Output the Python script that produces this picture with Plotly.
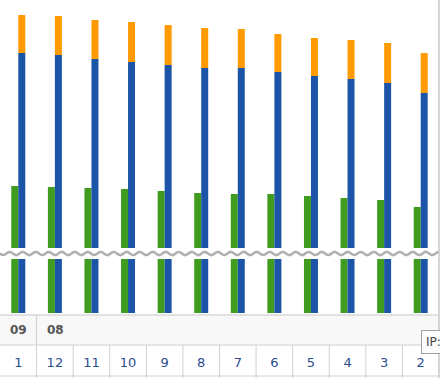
import numpy as np
import plotly.graph_objects as go

months = ["1", "12", "11", "10", "9", "8", "7", "6", "5", "4", "3", "2"]
years = ["09", "08"]
year_start_idx = [0, 1]
green_vals = [127, 126, 125, 124, 122, 120, 119, 119, 117, 115, 113, 106]
blue_vals = [260, 258, 254, 251, 248, 245, 245, 241, 237, 234, 230, 220]
orange_vals = [38, 39, 39, 40, 40, 40, 39, 38, 38, 39, 40, 40]

W, H = 440, 378
plot_w, plot_h = 439, 313
x = list(range(len(months)))
bw = 7 / (plot_w / len(months))

fig = go.Figure()
fig.add_trace(go.Bar(x=x, y=green_vals, width=bw, offset=-bw,
                     marker=dict(color="#3f9c1f", line=dict(width=0)), name="green"))
fig.add_trace(go.Bar(x=x, y=blue_vals, width=bw, offset=0,
                     marker=dict(color="#1c54a7", line=dict(width=0)), name="blue"))
fig.add_trace(go.Bar(x=x, y=orange_vals, base=blue_vals, width=bw, offset=0,
                     marker=dict(color="#ff9a00", line=dict(width=0)), name="orange"))

def py(p):
    return (plot_h - p) / plot_h

shapes = []
# break band
shapes.append(dict(type="rect", xref="paper", yref="paper", x0=-0.01, x1=1.01,
                   y0=py(259), y1=py(248), fillcolor="white", line=dict(width=0), layer="above"))
xs = np.linspace(0, 1, 300)
ys = [py(253.5 + 1.6 * np.sin(2 * np.pi * xv * plot_w / 13.0)) for xv in xs]
path = "M " + " L ".join(f"{a:.5f},{b:.5f}" for a, b in zip(xs, ys))
shapes.append(dict(type="path", xref="paper", yref="paper", path=path,
                   line=dict(color="#b0b0b0", width=2.5), layer="above"))

# table
shapes.append(dict(type="rect", xref="paper", yref="paper", x0=0, x1=1, y0=py(345), y1=py(315),
                   fillcolor="#f8f8f8", line=dict(width=0), layer="below"))
for p, c, w in [(315, "#d8d8d8", 1.5), (345, "#d0d0d0", 1), (376, "#d0d0d0", 1)]:
    shapes.append(dict(type="line", xref="paper", yref="paper", x0=0, x1=1, y0=py(p), y1=py(p),
                       line=dict(color=c, width=w)))
for i in range(1, len(months)):
    top = 315 if i in year_start_idx else 345
    shapes.append(dict(type="line", xref="x", yref="paper", x0=i - 0.5, x1=i - 0.5,
                       y0=py(top), y1=py(378), line=dict(color="#d0d0d0", width=1)))
shapes.append(dict(type="line", xref="paper", yref="paper", x0=1, x1=1, y0=py(378), y1=1,
                   line=dict(color="#c8c8c8", width=1.5)))

annotations = []
for yr, idx in zip(years, year_start_idx):
    annotations.append(dict(x=idx - 0.5, xref="x", xanchor="left", xshift=8,
                            y=py(330), yref="paper", yanchor="middle", showarrow=False,
                            text=f"<b>{yr}</b>", font=dict(family="DejaVu Sans", size=12, color="#555")))
annotations.append(dict(x=421 / plot_w, xref="paper", xanchor="left", y=py(342), yref="paper",
                        yanchor="middle", showarrow=False, text="IP: ...",
                        font=dict(family="DejaVu Sans", size=12, color="#444"),
                        bgcolor="#fdfdfd", bordercolor="#a0a0a0", borderwidth=1, borderpad=4))

fig.update_layout(
    width=W, height=H, margin=dict(l=0, r=W - plot_w, t=0, b=H - plot_h),
    paper_bgcolor="white", plot_bgcolor="white", showlegend=False,
    barmode="overlay", shapes=shapes, annotations=annotations,
    xaxis=dict(range=[-0.5, len(months) - 0.5], tickmode="array", tickvals=x, ticktext=months,
               showgrid=False, zeroline=False, showline=False, ticks="",
               ticklabelstandoff=40, tickfont=dict(family="DejaVu Sans", size=13, color="#2b4d8f")),
    yaxis=dict(range=[0, plot_h], visible=False, showgrid=False, zeroline=False),
)
fig.write_html("out.html")
